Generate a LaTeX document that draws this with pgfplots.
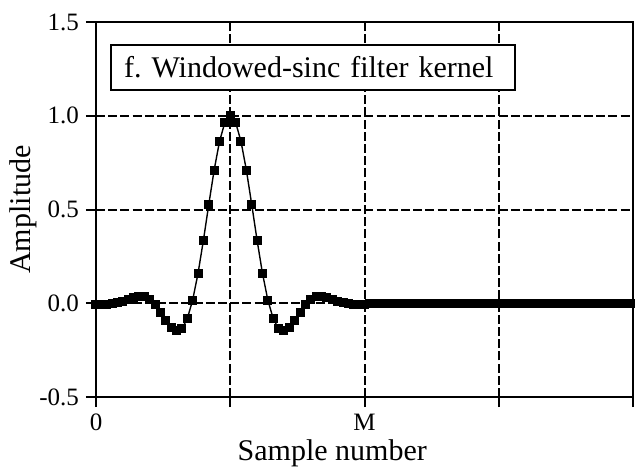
\documentclass[border=0pt]{standalone}
\usepackage{fontspec}
\setmainfont{Liberation Serif}
\usepackage{pgfplots}
\pgfplotsset{compat=1.18}
\usetikzlibrary{calc}

% Windowed-sinc kernel: M = 50, fc = 0.07, Hamming window, normalised to unit peak;
% samples M+1 ... 2M are zero padding.
\begin{document}
\begin{tikzpicture}
\begin{axis}[
  width=268.5pt, height=187.5pt, scale only axis,
  xmin=0, xmax=100, ymin=-0.5, ymax=1.5,
  xtick={0,25,50,75,100}, xticklabels={0,,M,,},
  ytick={-0.5,0,0.5,1,1.5}, yticklabels={-0.5,0.0,0.5,1.0,1.5},
  tick align=outside, tick style={black, line width=1pt},
  major tick length=5pt,
  xtick pos=bottom, ytick pos=left,
  axis line style={line width=1.2pt},
  grid=major,
  major grid style={black, line width=1pt, dash pattern=on 4.5pt off 1.6pt},
  /pgf/number format/assume math mode=true,
  ticklabel style={font=\fontsize{12.5}{14}\selectfont},
  label style={font=\fontsize{15}{18}\selectfont},
  xlabel={Sample number}, ylabel={Amplitude},
  xlabel style={at={(axis description cs:0.44,-0.149)}, anchor=center},
  ylabel style={at={(axis description cs:-0.136,0.5)}, anchor=center},
  clip=false,
]
\addplot[black, line width=0.7pt, mark=square*, mark size=1.9pt,
         mark options={solid, fill=black}] coordinates {
 (0,-0.0073) (1,-0.0072) (2,-0.0060) (3,-0.0029) (4,0.0028) (5,0.0112)
 (6,0.0215) (7,0.0311) (8,0.0365) (9,0.0335) (10,0.0186) (11,-0.0092)
 (12,-0.0479) (13,-0.0910) (14,-0.1284) (15,-0.1475) (16,-0.1355) (17,-0.0823)
 (18,0.0170) (19,0.1598) (20,0.3356) (21,0.5266) (22,0.7104) (23,0.8633)
 (24,0.9647) (25,1.0000) (26,0.9647) (27,0.8633) (28,0.7104) (29,0.5266)
 (30,0.3356) (31,0.1598) (32,0.0170) (33,-0.0823) (34,-0.1355) (35,-0.1475)
 (36,-0.1284) (37,-0.0910) (38,-0.0479) (39,-0.0092) (40,0.0186) (41,0.0335)
 (42,0.0365) (43,0.0311) (44,0.0215) (45,0.0112) (46,0.0028) (47,-0.0029)
 (48,-0.0060) (49,-0.0072) (50,-0.0073)
 (51,0) (52,0) (53,0) (54,0) (55,0) (56,0) (57,0) (58,0) (59,0) (60,0)
 (61,0) (62,0) (63,0) (64,0) (65,0) (66,0) (67,0) (68,0) (69,0) (70,0)
 (71,0) (72,0) (73,0) (74,0) (75,0) (76,0) (77,0) (78,0) (79,0) (80,0)
 (81,0) (82,0) (83,0) (84,0) (85,0) (86,0) (87,0) (88,0) (89,0) (90,0)
 (91,0) (92,0) (93,0) (94,0) (95,0) (96,0) (97,0) (98,0) (99,0) (100,0)
};
\node[draw, fill=white, line width=1.1pt, anchor=north west,
      text width=189pt, inner xsep=6.5pt, inner ysep=0pt,
      minimum height=22.5pt, align=left,
      font=\fontsize{15}{18}\selectfont]
  at (axis cs:2.6,1.383) {f.\ Windowed-sinc filter kernel};
\end{axis}
\pgfresetboundingbox
\path[use as bounding box] ($(current axis.south west)+(-48pt,-38pt)$)
  rectangle ($(current axis.north east)+(1pt,11pt)$);
\end{tikzpicture}
\end{document}
